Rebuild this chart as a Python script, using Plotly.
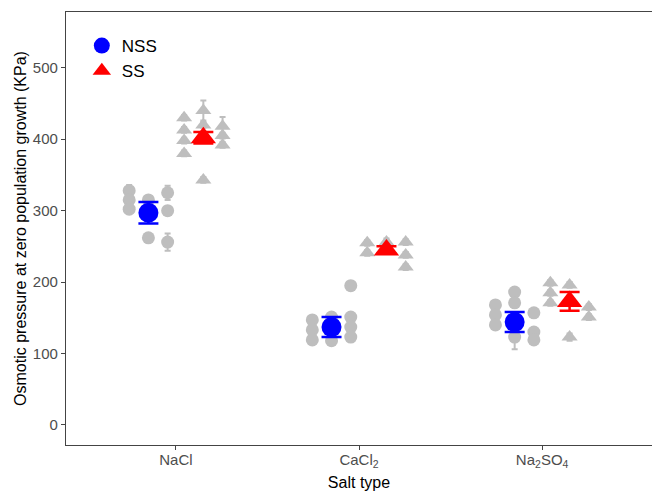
import plotly.graph_objects as go

# ---- data ----
categories = ["NaCl", "CaCl<sub>2</sub>", "Na<sub>2</sub>SO<sub>4</sub>"]
y_ticks = [0, 100, 200, 300, 400, 500]

# individual NSS observations: salt index, replicate column (-1,0,1), value, error
nss_salt = [0, 0, 0, 0, 0, 0, 0, 0,
            1, 1, 1, 1, 1, 1, 1, 1, 1,
            2, 2, 2, 2, 2, 2, 2, 2, 2]
nss_col = [-1, -1, -1, 0, 1, 1, 0, 1,
           -1, -1, -1, 0, 0, 1, 1, 1, 1,
           -1, -1, -1, 0, 0, 0, 1, 1, 1]
nss_val = [328, 315, 302, 315, 325, 300, 262, 256,
           147, 133, 119, 151, 118, 151, 137, 123, 195,
           168, 154, 140, 186, 171, 123, 157, 130, 119]
nss_err = [8, 4, 4, 4, 10, 4, 4, 12,
           4, 4, 4, 4, 4, 4, 4, 4, 4,
           4, 4, 4, 5, 4, 17, 4, 4, 4]

# individual SS observations
ss_salt = [0, 0, 0, 0, 0, 0, 0, 0, 0, 0,
           1, 1, 1, 1, 1, 1, 1,
           2, 2, 2, 2, 2, 2, 2]
ss_col = [-1, -1, -1, -1, 0, 0, 0, 1, 1, 1,
          -1, -1, 0, 0, 1, 1, 1,
          -1, -1, -1, 0, 0, 1, 1]
ss_val = [430, 413, 398, 380, 440, 420, 343, 418, 405, 392,
          255, 241, 256, 245, 256, 238, 221,
          199, 185, 171, 196, 123, 165, 151]
ss_err = [4, 4, 4, 4, 14, 4, 4, 13, 4, 4,
          4, 4, 5, 4, 4, 4, 4,
          4, 4, 4, 4, 5, 4, 4]

# group means and standard errors
nss_mean = [297, 137, 144]
nss_se = [15, 14, 14]
ss_mean = [402, 245, 173]
ss_se = [8, 5, 13]

# ---- layout parameters ----
dodge = 0.15
col_step = 0.105
grey = "#BEBEBE"
font_family = "Liberation Sans, Arial, sans-serif"

def xpos(salt, off, cols=None):
    if cols is None:
        return [s + 1 + off for s in salt]
    return [s + 1 + off + c * col_step for s, c in zip(salt, cols)]

fig = go.Figure()

# grey individual NSS
fig.add_trace(go.Scatter(
    x=xpos(nss_salt, -dodge, nss_col), y=nss_val, mode="markers",
    marker=dict(symbol="circle", size=13, color=grey),
    error_y=dict(type="data", array=nss_err, color=grey, thickness=2, width=3),
    showlegend=False, hoverinfo="skip"))

# grey individual SS
fig.add_trace(go.Scatter(
    x=xpos(ss_salt, dodge, ss_col), y=ss_val, mode="markers",
    marker=dict(symbol="triangle-up", size=14, color=grey),
    error_y=dict(type="data", array=ss_err, color=grey, thickness=2, width=3),
    showlegend=False, hoverinfo="skip"))

# means
fig.add_trace(go.Scatter(
    x=xpos([0, 1, 2], -dodge), y=nss_mean, mode="markers", name="NSS",
    marker=dict(symbol="circle", size=20, color="#0000FF"),
    error_y=dict(type="data", array=nss_se, color="#0000FF", thickness=2.5, width=10)))
fig.add_trace(go.Scatter(
    x=xpos([0, 1, 2], dodge), y=ss_mean, mode="markers", name="SS",
    marker=dict(symbol="triangle-up", size=22, color="#FF0000"),
    error_y=dict(type="data", array=ss_se, color="#FF0000", thickness=2.5, width=10)))

fig.update_layout(
    width=652, height=491,
    margin=dict(l=66, r=0, t=12, b=46, autoexpand=False),
    paper_bgcolor="white", plot_bgcolor="white",
    font=dict(family=font_family, size=14, color="black"),
    legend=dict(x=0.027, y=0.963, xanchor="left", yanchor="top",
                bgcolor="rgba(0,0,0,0)", font=dict(size=17, color="black"),
                tracegroupgap=0),
    xaxis=dict(range=[0.4, 3.6], tickvals=[1, 2, 3], ticktext=categories,
               automargin=False, ticklabelstandoff=-3,
               showgrid=False, zeroline=False, showline=True, linecolor="#444444",
               linewidth=1.2, mirror=True, ticks="outside", ticklen=4, tickcolor="#444444",
               tickfont=dict(size=15, color="#4D4D4D"),
               title=dict(text="Salt type", font=dict(size=16, color="black"), standoff=8)),
    yaxis=dict(range=[-28, 578], tickvals=y_ticks, ticktext=[str(v) for v in y_ticks],
               automargin=False,
               showgrid=False, zeroline=False, showline=True, linecolor="#444444",
               linewidth=1.2, ticks="outside", ticklen=4, tickcolor="#444444",
               tickfont=dict(size=15, color="#4D4D4D"),
               title=dict(text="Osmotic pressure at zero population growth (KPa)",
                          font=dict(size=16, color="black"), standoff=2)),
)

fig.write_html("out.html", config={"displayModeBar": False},
               post_script="document.body.style.margin='0';document.body.style.overflow='hidden';")
